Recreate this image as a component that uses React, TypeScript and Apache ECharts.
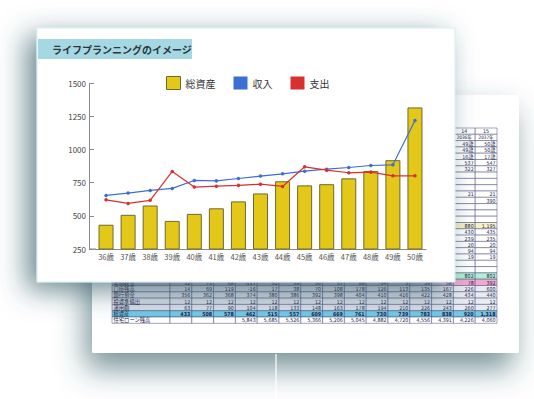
import React, { useEffect, useRef } from 'react';
import * as echarts from 'echarts';

// ---- chart data ----
const ages = ['36歳', '37歳', '38歳', '39歳', '40歳', '41歳', '42歳', '43歳', '44歳', '45歳', '46歳', '47歳', '48歳', '49歳', '50歳'];
const totalAssets = [433, 508, 578, 462, 515, 557, 609, 669, 761, 730, 739, 783, 838, 920, 1318];
const income = [654, 672, 692, 707, 767, 764, 782, 800, 817, 837, 852, 865, 880, 885, 1219];
const expense = [621, 594, 617, 835, 717, 724, 730, 739, 722, 870, 845, 825, 830, 802, 802];
const legendNames = ['総資産', '収入', '支出'];
const yMin = 250;
const yMax = 1500;
const yInterval = 250;
const titleText = 'ライフプランニングのイメージ';

// ---- spreadsheet (background) data ----
const tableRowLabels = ['年間収支', '口座残高', '銀行預金', '投資準備出', '運用額', '総資産', '住宅ローン残高'];
const rowAnnual = ['32', '73', '68', '-117', '51', '39', '50', '57', '88', '-34', '5', '39', '58', '78', '392'];
const rowAccount = ['14', '69', '119', '-16', '17', '38', '70', '108', '178', '126', '113', '135', '167', '226', '600'];
const rowBank = ['356', '362', '368', '374', '380', '386', '392', '398', '404', '410', '416', '422', '428', '434', '440'];
const rowInvest = ['12', '12', '12', '12', '12', '12', '12', '12', '12', '12', '12', '12', '12', '12', '12'];
const rowManaged = ['63', '77', '90', '104', '118', '133', '148', '163', '178', '194', '210', '226', '243', '260', '277'];
const rowTotal = ['433', '508', '578', '462', '515', '557', '609', '669', '761', '730', '739', '783', '838', '920', '1,318'];
const rowLoan = ['', '', '', '5,843', '5,685', '5,526', '5,366', '5,206', '5,045', '4,882', '4,720', '4,556', '4,391', '4,226', '4,060'];
const col14Top = ['14', '2036年', '49歳', '49歳', '16歳', '537', '322', '', '', '', '21', '', '', '', '', '880', '430', '239', '20', '94', '19', '', '', '802'];
const col15Top = ['15', '2037年', '50歳', '50歳', '17歳', '547', '327', '', '', '', '21', '390', '', '', '', '1,195', '435', '235', '20', '94', '19', '', '', '802'];

export default function App() {
  const ref = useRef<HTMLDivElement>(null);

  useEffect(() => {
    if (!ref.current) return;
    const chart = echarts.init(ref.current, null, { renderer: 'svg' });

    const X_L0 = 112, X_L1 = 170, COL_W = 21.8, ROW_TOP = 128, ROW_H = 6.3;
    const ink = '#1e1e44';
    const lineC = '#4a4a7a';
    const tf = '"DejaVu Sans Condensed", "Noto Sans CJK JP", sans-serif';
    const els: any[] = [];

    // back sheet with shadow
    els.push({
      type: 'rect', z: -60,
      shape: { x: 92, y: 95, width: 427, height: 258, r: 2 },
      style: { fill: '#ffffff', shadowBlur: 30, shadowOffsetX: -6, shadowOffsetY: 16, shadowColor: 'rgba(45,90,100,0.65)' },
    });
    els.push({
      type: 'line', z: -55,
      shape: { x1: 276, y1: 354, x2: 276, y2: 399 },
      style: { stroke: '#ffffff', lineWidth: 1.2 },
    });

    const cell = (x: number, y: number, w: number, fill: string) => {
      els.push({
        type: 'rect', z: -40,
        shape: { x, y, width: w, height: ROW_H },
        style: { fill, stroke: lineC, lineWidth: 0.5 },
      });
    };
    const txt = (s: string, x: number, y: number, align: string, bold = false, size = 5.3) => {
      if (!s) return;
      els.push({
        type: 'text', z: -39,
        style: {
          text: s, x, y: y + ROW_H / 2 + 0.3, fill: ink,
          fontSize: size, fontFamily: tf, fontWeight: bold ? 'bold' : 'normal',
          align, verticalAlign: 'middle', textAlign: align, textVerticalAlign: 'middle',
        },
      });
    };

    // top rows of last two columns
    col14Top.forEach((v, i) => {
      const y = ROW_TOP + i * ROW_H;
      let fill = '#ffffff';
      if (i === 15) fill = '#f6f1c9';
      if (i === 23) fill = '#aef0d5';
      const x14 = X_L1 + 13 * COL_W;
      const x15 = X_L1 + 14 * COL_W;
      cell(x14, y, COL_W, fill);
      cell(x15, y, COL_W, fill);
      const center = i < 2;
      const size = i === 1 ? 4.6 : 5.3;
      txt(v, center ? x14 + COL_W / 2 : x14 + COL_W - 1.5, y, center ? 'center' : 'right', false, size);
      txt(col15Top[i], center ? x15 + COL_W / 2 : x15 + COL_W - 1.5, y, center ? 'center' : 'right', false, size);
    });

    // bottom rows
    const bottomRows = [rowAnnual, rowAccount, rowBank, rowInvest, rowManaged, rowTotal, rowLoan];
    bottomRows.forEach((row, r) => {
      const y = ROW_TOP + (24 + r) * ROW_H;
      let base = '#d9dee8';
      let tail = '#e8ebf1';
      if (r === 0) { base = '#c6b2d4'; tail = '#f1a9cd'; }
      if (r === 5) { base = '#72c8e6'; tail = '#72c8e6'; }
      if (r === 6) { base = '#ffffff'; tail = '#ffffff'; }
      cell(X_L0, y, X_L1 - X_L0, base);
      txt(tableRowLabels[r], X_L0 + 1.5, y, 'left');
      row.forEach((v, c) => {
        const x = X_L1 + c * COL_W;
        cell(x, y, COL_W, c >= 13 ? tail : base);
        txt(v, x + COL_W - 1.5, y, 'right', r === 5);
      });
    });

    // front card
    els.push({
      type: 'rect', z: -20,
      shape: { x: 37, y: 28, width: 418, height: 254 },
      style: { fill: '#ffffff', stroke: '#d2edf3', lineWidth: 1, shadowBlur: 28, shadowOffsetX: -10, shadowOffsetY: 8, shadowColor: 'rgba(45,90,100,0.7)' },
    });
    els.push({
      type: 'rect', z: -15,
      shape: { x: 38, y: 39, width: 154, height: 20 },
      style: { fill: '#a5d8e3' },
    });
    els.push({
      type: 'text', z: -14,
      style: {
        text: titleText, x: 52, y: 49.5, fill: '#2c363c',
        fontSize: 10, fontWeight: 'bold', fontFamily: '"Noto Sans CJK JP", sans-serif',
        align: 'left', verticalAlign: 'middle', textAlign: 'left', textVerticalAlign: 'middle',
      },
    });
    // short extension of the x-axis line to the y-axis
    els.push({
      type: 'line', z: 5,
      shape: { x1: 89, y1: 249, x2: 96, y2: 249 },
      style: { stroke: '#8a8a8a', lineWidth: 1 },
    });

    const jp = '"Noto Sans CJK JP", "Noto Sans", sans-serif';

    chart.setOption({
      animation: false,
      backgroundColor: '#ffffff',
      graphic: { elements: els },
      legend: {
        left: 166, top: 76, padding: 0,
        itemWidth: 14, itemHeight: 13, itemGap: 18,
        icon: 'rect',
        textStyle: { fontSize: 10, color: '#333', fontFamily: jp },
        data: [
          { name: legendNames[0], itemStyle: { color: '#e3c819', borderColor: '#6f6a2c', borderWidth: 1 } },
          { name: legendNames[1], itemStyle: { color: '#3b6fd4', borderWidth: 0 } },
          { name: legendNames[2], itemStyle: { color: '#d8302f', borderWidth: 0 } },
        ],
      },
      grid: { left: 95, width: 331, top: 83.3, bottom: 150, containLabel: false },
      xAxis: {
        type: 'category',
        data: ages,
        axisLine: { lineStyle: { color: '#8a8a8a', width: 1 } },
        axisTick: { show: false },
        axisLabel: { fontSize: 7.5, color: '#555', margin: 4, fontFamily: jp, interval: 0 },
      },
      yAxis: {
        type: 'value',
        min: yMin, max: yMax, interval: yInterval,
        offset: 6,
        splitLine: { show: false },
        axisLine: { show: true, lineStyle: { color: '#8a8a8a', width: 1 } },
        axisTick: { show: true, inside: true, length: 5, lineStyle: { color: '#8a8a8a' } },
        axisLabel: { fontSize: 8, color: '#444', margin: 3, fontFamily: jp, formatter: (v: number) => String(v) },
      },
      series: [
        {
          name: legendNames[0], type: 'bar', data: totalAssets, barWidth: 15,
          itemStyle: { color: '#e3c819', borderColor: '#6f6a2c', borderWidth: 1 },
        },
        {
          name: legendNames[1], type: 'line', data: income,
          symbol: 'circle', symbolSize: 3.5,
          lineStyle: { color: '#3b6fd4', width: 1.2 },
          itemStyle: { color: '#3b6fd4' },
        },
        {
          name: legendNames[2], type: 'line', data: expense,
          symbol: 'circle', symbolSize: 3.5,
          lineStyle: { color: '#d8302f', width: 1.2 },
          itemStyle: { color: '#d8302f' },
        },
      ],
    });

    return () => chart.dispose();
  }, []);

  return (
    <div
      ref={ref}
      style={{ position: 'fixed', left: 0, top: 0, width: 534, height: 399, background: '#fff' }}
    />
  );
}
